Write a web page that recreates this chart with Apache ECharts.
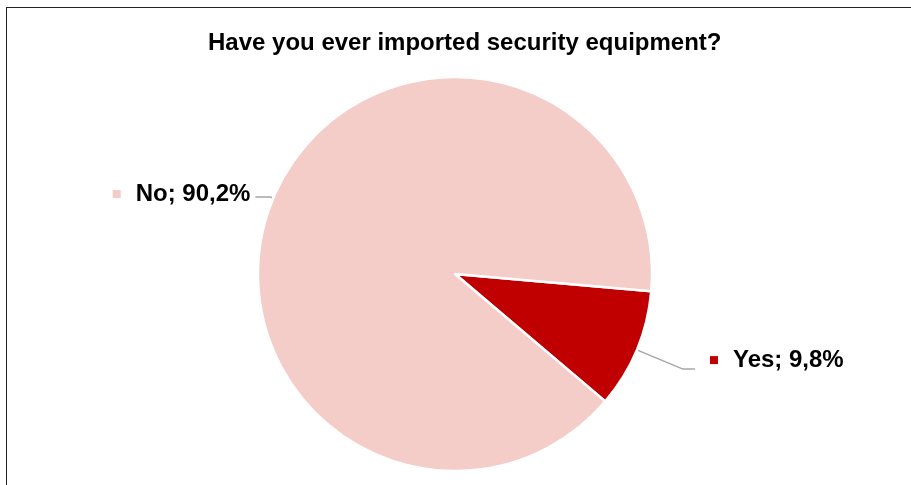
<!DOCTYPE html>
<html>
<head>
<meta charset="utf-8">
<script src="https://cdn.jsdelivr.net/npm/echarts@6/dist/echarts.min.js"></script>
<style>
  html, body { margin: 0; padding: 0; background: #fff; }
  #frame { position: absolute; left: 6px; top: 7px; width: 1000px; height: 600px; border: 1.5px solid #222; box-sizing: border-box; }
  #chart { position: absolute; left: 0; top: 0; width: 911px; height: 485px; }
</style>
</head>
<body>
<div id="frame"></div>
<div id="chart"></div>
<script>
const titleText = 'Have you ever imported security equipment?';
const categories = ['Yes', 'No'];
const values = [9.8, 90.2];
const valueLabels = ['9,8%', '90,2%'];
const colors = ['#C00000', '#F4CCC8'];

const chart = echarts.init(document.getElementById('chart'));

const data = categories.map((c, i) => ({
  name: c,
  value: values[i],
  itemStyle: { color: colors[i] },
  label: {
    formatter: '{m|}{t|' + c + '; ' + valueLabels[i] + '}',
    rich: {
      m: { width: 8, height: 8, backgroundColor: colors[i], verticalAlign: 'middle' },
      t: { fontSize: 24, fontWeight: 'bold', color: '#000', fontFamily: 'Liberation Sans, Arial, sans-serif', padding: [0, 0, 0, 15] }
    },
    padding: i === 0 ? [0, 0, 18, 10] : [0, 0, 6, 0]
  },
  labelLine: i === 0 ? { length: 50, length2: 12 } : { length: 3, length2: 15 }
}));

chart.setOption({
  animation: false,
  title: {
    text: titleText,
    left: 203,
    top: 26,
    textStyle: { fontSize: 24, fontWeight: 'bold', color: '#000', fontFamily: 'Liberation Sans, Arial, sans-serif' }
  },
  series: [{
    type: 'pie',
    center: [455, 274],
    radius: 197,
    startAngle: -5,
    clockwise: true,
    avoidLabelOverlap: false,
    itemStyle: { borderColor: '#fff', borderWidth: 2.5 },
    label: { show: true, position: 'outside' },
    labelLine: { show: true, lineStyle: { color: '#A6A6A6', width: 1.5 } },
    emphasis: { disabled: true },
    data: data
  }]
});
</script>
</body>
</html>
